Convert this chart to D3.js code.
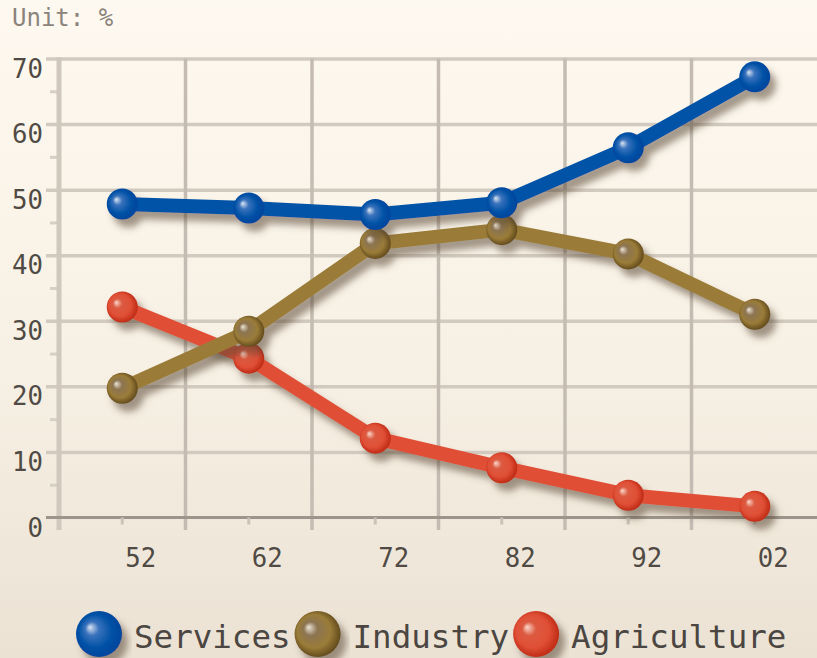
<!DOCTYPE html>
<html>
<head>
<meta charset="utf-8">
<script src="https://cdn.jsdelivr.net/npm/d3@7"></script>
<style>
  html, body { margin: 0; padding: 0; overflow: hidden; }
  svg { display: block; }
  text { font-family: "DejaVu Sans Mono", "Liberation Mono", monospace; }
</style>
</head>
<body>
<svg id="chart" width="817" height="658"></svg>
<script>
// Share of output by sector, decade years 1952–2002 (unit: %)
const years = ["52", "62", "72", "82", "92", "02"];
const services = [47.8, 47.2, 46.2, 48.0, 56.4, 67.2];
const industry = [19.7, 28.4, 41.8, 43.9, 40.2, 31.0];
const agriculture = [32.1, 24.3, 12.1, 7.6, 3.4, 1.7];
const seriesNames = ["Services", "Industry", "Agriculture"];
const yTicks = [0, 10, 20, 30, 40, 50, 60, 70];
const yMinorTicks = [5, 15, 25, 35, 45, 55, 65];
const unitLabel = "Unit: %";

const palette = {
  Services:    { line: "#0052a6", hi: "#dce6f2", mid: "#3a72bc", dark: "#003f98" },
  Industry:    { line: "#9a7c38", hi: "#ece4d6", mid: "#8c7452", dark: "#4a3410" },
  Agriculture: { line: "#e04f36", hi: "#fbd8cc", mid: "#dc5a40", dark: "#b01a06" }
};

const svg = d3.select("#chart");
const W = 817, H = 658;

const defs = svg.append("defs");
const bg = defs.append("linearGradient").attr("id", "bg")
  .attr("x1", 0).attr("y1", 0).attr("x2", 0).attr("y2", 1);
bg.append("stop").attr("offset", "0%").attr("stop-color", "#fef9f0");
bg.append("stop").attr("offset", "55%").attr("stop-color", "#f7f0e4");
bg.append("stop").attr("offset", "100%").attr("stop-color", "#ebe2d4");

const shadow = defs.append("filter").attr("id", "shadow")
  .attr("x", "-20%").attr("y", "-20%").attr("width", "140%").attr("height", "140%");
shadow.append("feDropShadow")
  .attr("dx", 6).attr("dy", 8).attr("stdDeviation", 3.5)
  .attr("flood-color", "#5a4636").attr("flood-opacity", 0.55);

seriesNames.forEach(name => {
  const c = palette[name];
  const g = defs.append("radialGradient").attr("id", "ball-" + name)
    .attr("cx", "50%").attr("cy", "50%").attr("r", "60%")
    .attr("fx", "30%").attr("fy", "35%");
  g.append("stop").attr("offset", "0%").attr("stop-color", c.hi);
  g.append("stop").attr("offset", "25%").attr("stop-color", c.mid);
  g.append("stop").attr("offset", "60%").attr("stop-color", c.line);
  g.append("stop").attr("offset", "100%").attr("stop-color", c.dark);
});

svg.append("rect").attr("width", W).attr("height", H).attr("fill", "url(#bg)");

// Scales
const x = d3.scaleBand().domain(years).range([59, 818]).padding(0);
const y = d3.scaleLinear().domain([0, 70]).range([517.5, 58.5]);
const cx = d => x(d) + x.bandwidth() / 2;

// Unit caption
svg.append("text").attr("x", 12).attr("y", 26)
  .attr("font-size", 24).attr("fill", "#8a847c").text(unitLabel);

// Horizontal gridlines
const hGrid = svg.append("g").attr("transform", "translate(46,0)")
  .call(d3.axisRight(y).tickValues(yTicks.slice(1)).tickSize(772).tickFormat(""));
hGrid.select(".domain").remove();
hGrid.selectAll("line").attr("stroke", "#d2cabe").attr("stroke-width", 3.5);

// Vertical gridlines at category boundaries
svg.append("g").selectAll("line")
  .data(years.slice(0, -1))
  .join("line")
  .attr("x1", d => x(d) + x.bandwidth()).attr("x2", d => x(d) + x.bandwidth())
  .attr("y1", y(70)).attr("y2", 530)
  .attr("stroke", "#c4bcb2").attr("stroke-width", 3.5);

// Minor ticks on the value axis
const yMinor = svg.append("g").attr("transform", "translate(59,0)")
  .call(d3.axisLeft(y).tickValues(yMinorTicks).tickSize(9).tickFormat(""));
yMinor.select(".domain").remove();
yMinor.selectAll("line").attr("stroke", "#d6cfc4").attr("stroke-width", 3);

// Value axis line
svg.append("line").attr("x1", 59).attr("x2", 59).attr("y1", y(70) - 1).attr("y2", 530)
  .attr("stroke", "#d0c8bd").attr("stroke-width", 5);

// Value axis labels
const yAxis = svg.append("g").attr("transform", "translate(59,0)")
  .call(d3.axisLeft(y).tickValues(yTicks).tickSize(0).tickPadding(16));
yAxis.select(".domain").remove();
yAxis.selectAll("text")
  .attr("font-family", "DejaVu Sans Mono, monospace")
  .attr("font-size", 25.7).attr("fill", "#4f4a44")
  .attr("dy", "0.72em");

// Category axis: baseline, small ticks, labels
svg.append("line").attr("x1", 46).attr("x2", 818).attr("y1", y(0)).attr("y2", y(0))
  .attr("stroke", "#9d958c").attr("stroke-width", 3);
const xAxis = svg.append("g").attr("transform", `translate(0,${y(0)})`)
  .call(d3.axisBottom(x).tickSize(7).tickPadding(0));
xAxis.select(".domain").remove();
xAxis.selectAll("line").attr("stroke", "#cbc3b8").attr("stroke-width", 3);
xAxis.selectAll("text")
  .attr("font-family", "DejaVu Sans Mono, monospace")
  .attr("font-size", 25.7).attr("fill", "#4f4a44")
  .attr("text-anchor", "start").attr("x", 3).attr("dy", 0).attr("y", 49.5);

// Series, drawn with Services on top
const seriesData = { Services: services, Industry: industry, Agriculture: agriculture };
const line = d3.line().x((d, i) => cx(years[i])).y(d => y(d));

["Agriculture", "Industry", "Services"].forEach(name => {
  const vals = seriesData[name];
  const g = svg.append("g").attr("filter", "url(#shadow)");
  g.append("path").datum(vals)
    .attr("d", line)
    .attr("fill", "none")
    .attr("stroke", palette[name].line)
    .attr("stroke-width", 14)
    .attr("stroke-linejoin", "round");
  g.selectAll("circle").data(vals).join("circle")
    .attr("cx", (d, i) => cx(years[i]))
    .attr("cy", d => y(d))
    .attr("r", 15.5)
    .attr("fill", `url(#ball-${name})`);
});

// Legend: ball swatch followed by the series name, flowing left to right
const legend = svg.append("g");
let lx = 76;
seriesNames.forEach(name => {
  const r = 23;
  const ccx = lx + r;
  legend.append("circle").attr("cx", ccx).attr("cy", 634).attr("r", r)
    .attr("fill", `url(#ball-${name})`).attr("filter", "url(#shadow)");
  const t = legend.append("text").attr("x", ccx + 35).attr("y", 648)
    .attr("font-size", 32.5).attr("fill", "#4b4641").text(name);
  lx = ccx + 35 + t.node().getComputedTextLength() + 4;
});
</script>
</body>
</html>
